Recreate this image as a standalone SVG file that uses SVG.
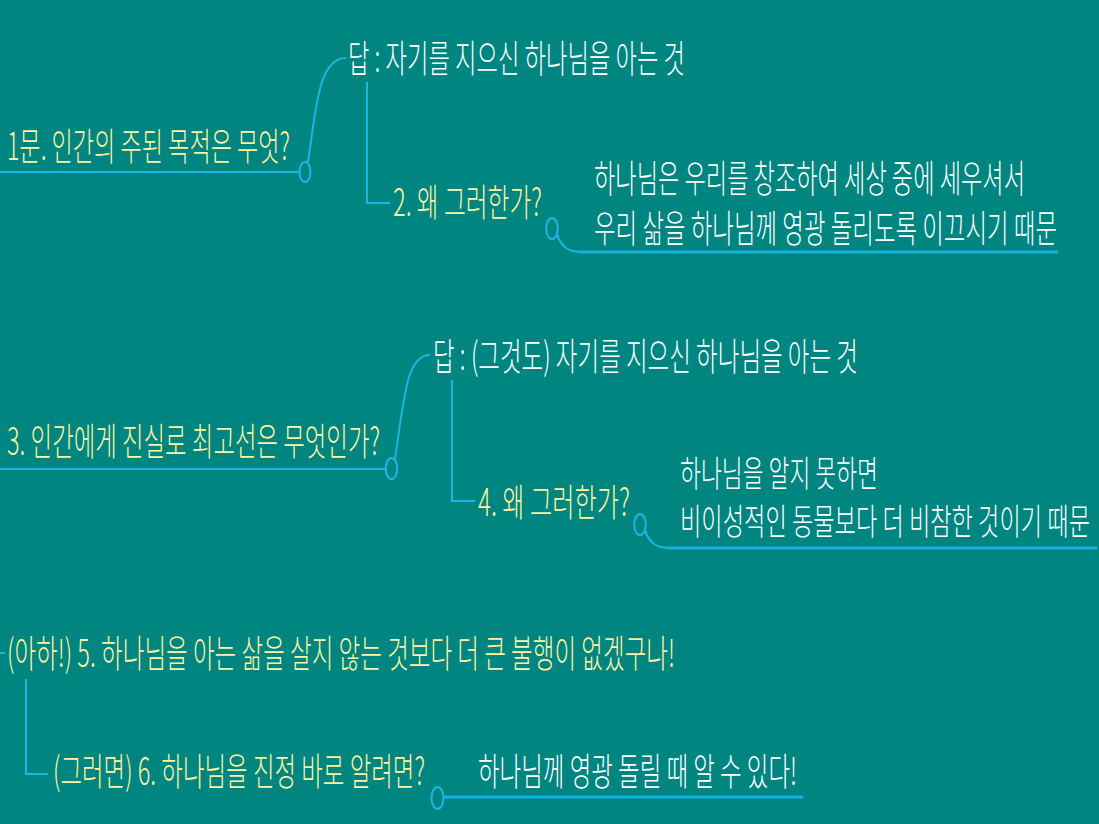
<svg xmlns="http://www.w3.org/2000/svg" width="1099" height="824" viewBox="0 0 1099 824">
<style>
text{font-family:"Noto Sans CJK KR","Noto Sans",sans-serif;font-size:38px;font-weight:300}
text.s{font-size:36px}
.q{fill:#FFF3A3}
.a{fill:#FFFFFF}
.ln{fill:none;stroke:#1AB6E4;stroke-width:2}
.ul{fill:none;stroke:#12B3E2;stroke-width:3}
.dot{fill:none;stroke:#1AB6E4;stroke-width:2}
</style>
<rect width="1099" height="824" fill="#008580"/>
<g id="connectors">
<path class="ln" d="M0,172 H299"/>
<ellipse class="dot" cx="305" cy="172" rx="5.5" ry="10"/>
<path class="ln" d="M308,162 C316,110 318,58 346,58"/>
<path class="ln" d="M367,82 V203 H390"/>
<ellipse class="dot" cx="552" cy="228.5" rx="5.8" ry="10.5"/>
<path class="ln" d="M557,235 C562,247 568,252 582,252"/>
<path class="ul" d="M580,252 H1058"/>
<path class="ln" d="M0,469 H386"/>
<ellipse class="dot" cx="391.5" cy="468.5" rx="5.7" ry="10.5"/>
<path class="ln" d="M395,459 C404,400 406,355 430,355"/>
<path class="ln" d="M452,380 V501 H475"/>
<ellipse class="dot" cx="640" cy="524.5" rx="5.8" ry="10.5"/>
<path class="ln" d="M645,531 C650,543 656,548 670,548"/>
<path class="ul" d="M668,548 H1097"/>
<path class="ln" d="M0,653 H5"/>
<path class="ln" d="M26,679 V774 H48"/>
<ellipse class="dot" cx="437.5" cy="798" rx="6" ry="11"/>
<path class="ul" d="M443,797 H803"/>
</g>
<g id="n1"><text class="q" transform="translate(7,160) scale(0.6,1)" textLength="471.7" lengthAdjust="spacingAndGlyphs">1문. 인간의 주된 목적은 무엇?</text></g>
<g id="n2"><text class="a" transform="translate(348,72) scale(0.6,1)" textLength="561.7" lengthAdjust="spacingAndGlyphs">답 : 자기를 지으신 하나님을 아는 것</text></g>
<g id="n3"><text class="q" transform="translate(393,216) scale(0.6,1)" textLength="248.3" lengthAdjust="spacingAndGlyphs">2. 왜 그러한가?</text></g>
<g id="n4">
<text class="a" transform="translate(594,192) scale(0.6,1)" textLength="718.3" lengthAdjust="spacingAndGlyphs">하나님은 우리를 창조하여 세상 중에 세우셔서</text>
<text class="a" transform="translate(594,242) scale(0.6,1)" textLength="771.7" lengthAdjust="spacingAndGlyphs">우리 삶을 하나님께 영광 돌리도록 이끄시기 때문</text>
</g>
<g id="n5"><text class="q" transform="translate(7,455) scale(0.6,1)" textLength="621.7" lengthAdjust="spacingAndGlyphs">3. 인간에게 진실로 최고선은 무엇인가?</text></g>
<g id="n6"><text class="a" transform="translate(433,370) scale(0.6,1)" textLength="708.3" lengthAdjust="spacingAndGlyphs">답 : (그것도) 자기를 지으신 하나님을 아는 것</text></g>
<g id="n7"><text class="q" transform="translate(478,516) scale(0.6,1)" textLength="253.3" lengthAdjust="spacingAndGlyphs">4. 왜 그러한가?</text></g>
<g id="n8">
<text class="a s" transform="translate(680,487) scale(0.6,1)" textLength="330" lengthAdjust="spacingAndGlyphs">하나님을 알지 못하면</text>
<text class="a s" transform="translate(680,535) scale(0.6,1)" textLength="683.3" lengthAdjust="spacingAndGlyphs">비이성적인 동물보다 더 비참한 것이기 때문</text>
</g>
<g id="n9"><text class="q" transform="translate(7,667) scale(0.6,1)" textLength="1113.3" lengthAdjust="spacingAndGlyphs">(아하!) 5. 하나님을 아는 삶을 살지 않는 것보다 더 큰 불행이 없겠구나!</text></g>
<g id="n10"><text class="q" transform="translate(53,785) scale(0.6,1)" textLength="620" lengthAdjust="spacingAndGlyphs">(그러면) 6. 하나님을 진정 바로 알려면?</text></g>
<g id="n11"><text class="a" transform="translate(478,785) scale(0.6,1)" textLength="531.7" lengthAdjust="spacingAndGlyphs">하나님께 영광 돌릴 때 알 수 있다!</text></g>
</svg>
